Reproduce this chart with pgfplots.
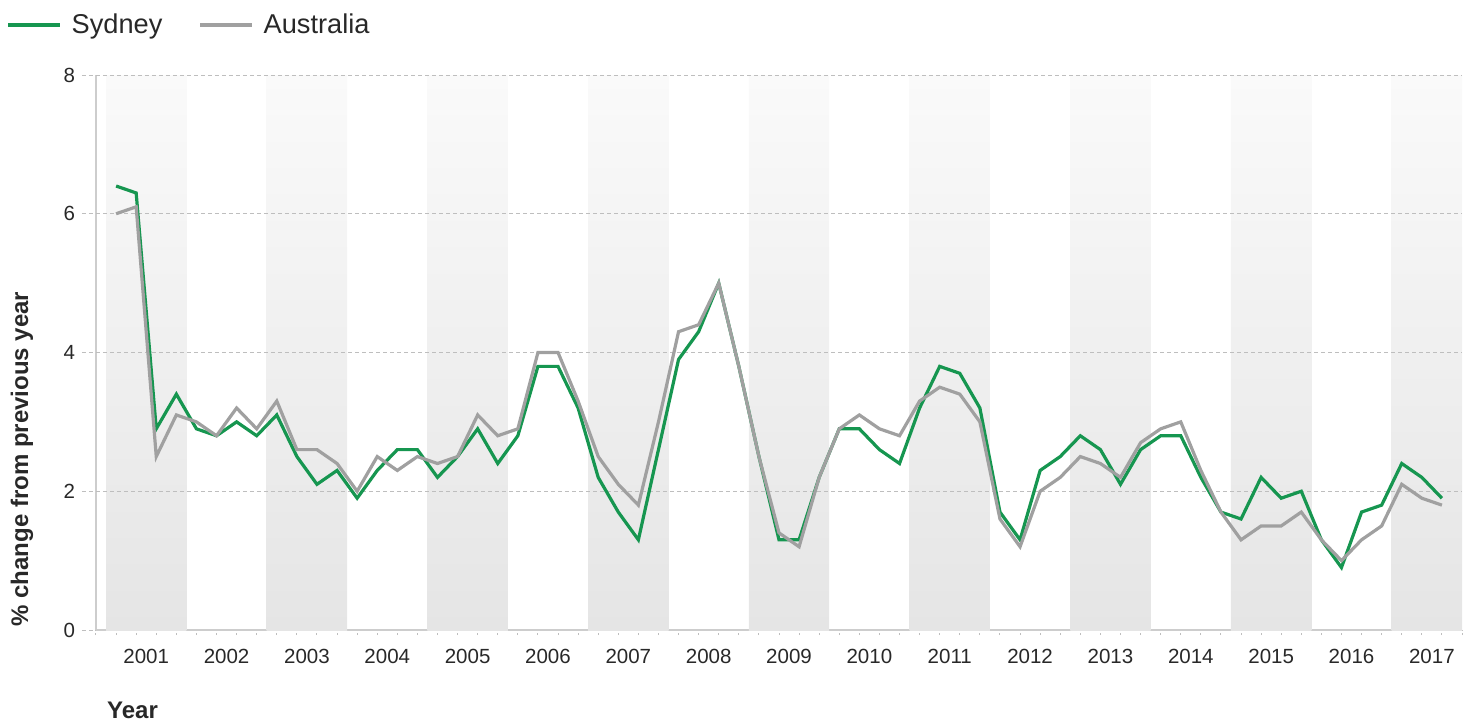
\documentclass[border=0pt]{standalone}
\usepackage{fontspec}
\setmainfont{Liberation Sans}
\usepackage{pgfplots}
\pgfplotsset{compat=1.18}
\definecolor{syd}{RGB}{22,150,80}
\definecolor{aus}{RGB}{160,160,160}
\definecolor{txt}{RGB}{40,40,40}
\definecolor{axl}{RGB}{205,205,205}
\definecolor{grd}{RGB}{190,190,190}
\definecolor{bandtop}{RGB}{250,250,250}
\definecolor{bandbot}{RGB}{229,229,229}

\pgfplotstableread{
i syd aus
0 6.4 6.0
1 6.3 6.1
2 2.9 2.5
3 3.4 3.1
4 2.9 3.0
5 2.8 2.8
6 3.0 3.2
7 2.8 2.9
8 3.1 3.3
9 2.5 2.6
10 2.1 2.6
11 2.3 2.4
12 1.9 2.0
13 2.3 2.5
14 2.6 2.3
15 2.6 2.5
16 2.2 2.4
17 2.5 2.5
18 2.9 3.1
19 2.4 2.8
20 2.8 2.9
21 3.8 4.0
22 3.8 4.0
23 3.2 3.3
24 2.2 2.5
25 1.7 2.1
26 1.3 1.8
27 2.6 3.0
28 3.9 4.3
29 4.3 4.4
30 5.0 5.0
31 3.8 3.8
32 2.5 2.5
33 1.3 1.4
34 1.3 1.2
35 2.2 2.2
36 2.9 2.9
37 2.9 3.1
38 2.6 2.9
39 2.4 2.8
40 3.2 3.3
41 3.8 3.5
42 3.7 3.4
43 3.2 3.0
44 1.7 1.6
45 1.3 1.2
46 2.3 2.0
47 2.5 2.2
48 2.8 2.5
49 2.6 2.4
50 2.1 2.2
51 2.6 2.7
52 2.8 2.9
53 2.8 3.0
54 2.2 2.3
55 1.7 1.7
56 1.6 1.3
57 2.2 1.5
58 1.9 1.5
59 2.0 1.7
60 1.3 1.3
61 0.9 1.0
62 1.7 1.3
63 1.8 1.5
64 2.4 2.1
65 2.2 1.9
66 1.9 1.8
}\datatable

\pgfplotsset{band/.style={draw=none, top color=bandtop, bottom color=bandbot, forget plot},
  gline/.style={grd, line width=0.5pt, dash pattern=on 2pt off 1.5pt, forget plot}}

\begin{document}
\begin{tikzpicture}
\useasboundingbox (0,0) rectangle (734.5pt,-361pt);
\begin{axis}[
  at={(48pt,-315pt)}, anchor=south west,
  scale only axis, width=683pt, height=277.5pt,
  xmin=-1, xmax=67, ymin=0, ymax=8,
  axis x line*=bottom, axis y line*=left,
  axis line style={axl, line width=0.7pt},
  /pgf/number format/assume math mode=true,
  tick label style={font=\fontsize{10.25pt}{12pt}\selectfont, text=txt},
  tick align=outside,
  major tick length=7pt,
  minor tick length=2.5pt,
  xtick={1.5,5.5,9.5,13.5,17.5,21.5,25.5,29.5,33.5,37.5,41.5,45.5,49.5,53.5,57.5,61.5,65.5},
  xticklabels={2001,2002,2003,2004,2005,2006,2007,2008,2009,2010,2011,2012,2013,2014,2015,2016,2017},
  minor xtick={-1,0,...,67},
  every major x tick/.style={draw=none},
  every minor x tick/.style={draw=grd, line width=0.5pt, dash pattern=on 1pt off 1pt},
  xticklabel style={yshift=1pt},
  ytick={0,2,4,6,8},
  every major y tick/.style={draw=grd, line width=0.5pt, dash pattern=on 2pt off 1.5pt},
  ylabel={\% change from previous year},
  ylabel style={font=\bfseries\fontsize{12pt}{14pt}\selectfont, text=txt, at={(axis description cs:-0.0542,0.308)}, anchor=center},
  xlabel={Year},
  xlabel style={font=\bfseries\fontsize{12pt}{14pt}\selectfont, text=txt, at={(axis description cs:0.003,-0.144)}, anchor=west},
  legend style={at={(axis description cs:-0.0658,1.090)}, anchor=west, draw=none, fill=none,
    legend columns=2, font=\fontsize{13.6pt}{15pt}\selectfont, text=txt, inner sep=0pt,
    /tikz/every odd column/.append style={column sep=3pt},
    /tikz/every even column/.append style={column sep=16pt}},
  legend cell align=left,
  legend image code/.code={\draw[#1, line width=1.6pt] (0pt,0pt) -- (26pt,0pt);},
]
\addplot[band] coordinates {(-0.5,8) (3.5,8)} \closedcycle;
\addplot[band] coordinates {(7.5,8) (11.5,8)} \closedcycle;
\addplot[band] coordinates {(15.5,8) (19.5,8)} \closedcycle;
\addplot[band] coordinates {(23.5,8) (27.5,8)} \closedcycle;
\addplot[band] coordinates {(31.5,8) (35.5,8)} \closedcycle;
\addplot[band] coordinates {(39.5,8) (43.5,8)} \closedcycle;
\addplot[band] coordinates {(47.5,8) (51.5,8)} \closedcycle;
\addplot[band] coordinates {(55.5,8) (59.5,8)} \closedcycle;
\addplot[band] coordinates {(63.5,8) (67,8)} \closedcycle;
\addplot[gline] coordinates {(-1,2) (67,2)};
\addplot[gline] coordinates {(-1,4) (67,4)};
\addplot[gline] coordinates {(-1,6) (67,6)};
\addplot[gline] coordinates {(-1,8) (67,8)};

\addplot[syd, line width=1.6pt, line join=miter, no marks] table[x=i, y=syd] {\datatable};
\addlegendentry{Sydney}
\addplot[aus, line width=1.6pt, line join=miter, no marks] table[x=i, y=aus] {\datatable};
\addlegendentry{Australia}
\end{axis}
\end{tikzpicture}
\end{document}
